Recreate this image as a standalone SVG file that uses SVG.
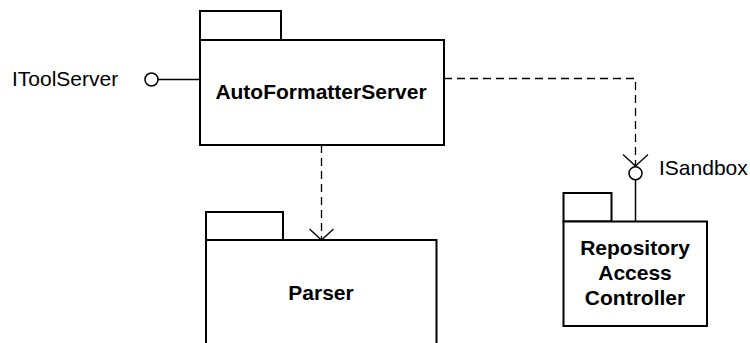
<svg xmlns="http://www.w3.org/2000/svg" width="750" height="343" viewBox="0 0 750 343">
  <style>
    .box { fill: #fff; stroke: #000; stroke-width: 2; }
    .name { font-family: "Liberation Sans", Arial, sans-serif; font-size: 21px; font-weight: bold; text-anchor: middle; fill: #000; }
    .label { font-family: "Liberation Sans", Arial, sans-serif; font-size: 21px; fill: #000; }
    .dep { fill: none; stroke: #000; stroke-width: 1.3; stroke-dasharray: 8 5; }
    .head { fill: none; stroke: #000; stroke-width: 1.3; }
    .solid { fill: none; stroke: #000; stroke-width: 1.5; }
    .ball { fill: #fff; stroke: #000; stroke-width: 1.5; }
  </style>
  <rect width="750" height="343" fill="#fff"/>

  <!-- connectors -->
  <g id="connectors">
    <!-- AutoFormatterServer -> Parser dependency -->
    <path class="dep" d="M321.5 145 V239"/>
    <path class="head" d="M309.5 229 L321.5 240 L333.5 229"/>
    <!-- AutoFormatterServer -> ISandbox dependency -->
    <path class="dep" d="M444 78.5 H635.5 V165"/>
    <path class="head" d="M623 154.5 L635.5 166 L648 154.5"/>
    <!-- IToolServer provided interface -->
    <path class="solid" d="M158 79.5 H199"/>
    <circle class="ball" cx="151.5" cy="79.5" r="6.5"/>
    <!-- ISandbox provided interface -->
    <path class="solid" d="M635.5 180 V221"/>
    <circle class="ball" cx="635.5" cy="173.3" r="6.5"/>
  </g>

  <g id="IToolServer">
    <text class="label" x="12" y="86">IToolServer</text>
  </g>

  <g id="ISandbox">
    <text class="label" x="659" y="175">ISandbox</text>
  </g>

  <g id="AutoFormatterServer">
    <rect class="box" x="200" y="11" width="81" height="29"/>
    <rect class="box" x="200" y="40" width="244" height="105"/>
    <text class="name" x="321" y="99">AutoFormatterServer</text>
  </g>

  <g id="Parser">
    <rect class="box" x="206" y="212" width="77" height="28"/>
    <rect class="box" x="206" y="240" width="230.5" height="120"/>
    <text class="name" x="321" y="300">Parser</text>
  </g>

  <g id="RepositoryAccessController">
    <rect class="box" x="563.5" y="193" width="48" height="28.5"/>
    <rect class="box" x="563.5" y="221.5" width="143.5" height="104.5"/>
    <text class="name" x="635" y="255">Repository</text>
    <text class="name" x="635" y="280">Access</text>
    <text class="name" x="635" y="305">Controller</text>
  </g>
</svg>
